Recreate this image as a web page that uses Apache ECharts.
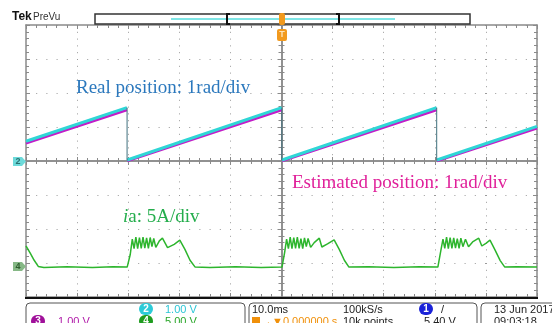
<!DOCTYPE html>
<html>
<head>
<meta charset="utf-8">
<script src="https://cdn.jsdelivr.net/npm/echarts@6/dist/echarts.min.js"></script>
<style>
html,body{margin:0;padding:0;background:#fff}
#scope{width:552px;height:323px}
</style>
</head>
<body>
<div id="scope"></div>
<script>
// time in ms (10 ms/div), amplitude in divisions (0 = centre line)
var ch2Real = [[-50,0.58],[-30.25,1.57],[-30.22,'-'],[-30.2,0.03],[0.05,1.57],[0.07,'-'],[0.1,0.03],[30.35,1.57],[30.37,'-'],[30.4,0.03],[50,1.02]];
var ch3Est = [[-50,0.52],[-30.25,1.5],[-30.22,'-'],[-30.2,0.0],[0.05,1.5],[0.07,'-'],[0.1,0.0],[30.35,1.5],[30.37,'-'],[30.4,0.0],[50,0.96]];
var rampDrops = [[-30.22,1.57],[-30.22,0.02],[-30.2,'-'],[0.07,1.57],[0.07,0.02],[0.1,'-'],[30.37,1.57],[30.37,0.02]];
var ch4Current = [
  [-50,-2.5],[-49.2,-2.7],[-48.4,-2.92],[-47.6,-3.1],[-46.5,-3.13],[-42,-3.11],[-37,-3.13],[-33,-3.11],
  [-30.2,-3.12],[-29.6,-2.75],[-29.2,-2.3],[-28.85,-2.58],[-28.5,-2.24],[-28.15,-2.58],[-27.8,-2.25],[-27.45,-2.57],
  [-27.1,-2.24],[-26.75,-2.56],[-26.4,-2.26],[-26.05,-2.57],[-25.7,-2.25],[-25.35,-2.52],[-25.0,-2.28],[-24.6,-2.54],
  [-23.9,-2.35],[-23.3,-2.27],[-22.3,-2.55],[-21.0,-2.45],[-19.9,-2.33],[-18.9,-2.6],[-17.9,-2.92],[-16.9,-3.12],
  [-14,-3.13],[-9,-3.11],[-4,-3.13],
  [0.1,-3.12],[0.6,-2.7],[1.0,-2.3],[1.35,-2.58],[1.7,-2.24],[2.05,-2.58],[2.4,-2.25],[2.75,-2.57],
  [3.1,-2.24],[3.45,-2.57],[3.8,-2.28],[4.15,-2.58],[4.5,-2.26],[4.85,-2.52],[5.2,-2.28],[5.7,-2.54],
  [6.4,-2.4],[7.4,-2.27],[7.9,-2.53],[9.0,-2.44],[10.3,-2.32],[11.3,-2.6],[12.3,-2.92],[13.2,-3.12],
  [17,-3.11],[22,-3.13],[27,-3.11],
  [30.6,-3.12],[31.1,-2.7],[31.6,-2.3],[31.95,-2.57],[32.3,-2.24],[32.65,-2.58],[33.0,-2.25],[33.35,-2.57],
  [33.7,-2.26],[34.05,-2.56],[34.4,-2.28],[34.75,-2.57],[35.1,-2.27],[35.5,-2.52],[36.0,-2.3],[36.6,-2.52],
  [37.4,-2.38],[38.6,-2.27],[39.2,-2.5],[40.0,-2.42],[40.8,-2.33],[41.8,-2.62],[42.8,-2.93],[43.7,-3.12],
  [46,-3.11],[50,-3.12]
];

var chart = echarts.init(document.getElementById('scope'));
var GRAY = '#8a8a8a';
var sans = 'Liberation Sans';
var serif = 'Liberation Serif';

function xAx(pos, onZero, inside, split) {
  return {
    type: 'value', min: -50, max: 50, interval: 10, position: pos,
    axisLine: {show: true, onZero: onZero, onZeroAxisIndex: 0, lineStyle: {color: GRAY, width: 1.5}},
    axisTick: {show: true, inside: inside, length: 4, lineStyle: {color: GRAY}},
    minorTick: {show: true, splitNumber: 5, length: 3, lineStyle: {color: GRAY}},
    axisLabel: {show: false},
    splitLine: {show: split, lineStyle: {color: '#9a9a9a', width: 1, type: [1, 5.8]}}
  };
}
function yAx(pos, onZero, inside, split) {
  return {
    type: 'value', min: -4, max: 4, interval: 1, position: pos,
    axisLine: {show: true, onZero: onZero, onZeroAxisIndex: 0, lineStyle: {color: GRAY, width: 1.5}},
    axisTick: {show: true, inside: inside, length: 4, lineStyle: {color: GRAY}},
    minorTick: {show: true, splitNumber: 5, length: 3, lineStyle: {color: GRAY}},
    axisLabel: {show: false},
    splitLine: {show: split, lineStyle: {color: '#9a9a9a', width: 1, type: [1, 9.2]}}
  };
}

function txt(x, y, s, color, size, extra) {
  var st = {text: s, fill: color, font: (size || 11) + 'px "' + sans + '"', textVerticalAlign: 'middle'};
  if (extra) for (var k in extra) st[k] = extra[k];
  return {type: 'text', x: x, y: y, style: st, z: 100};
}
function badge(x, y, n, color) {
  return [
    {type: 'rect', shape: {x: x - 7, y: y - 6, width: 14, height: 12, r: 6}, style: {fill: color}, z: 101},
    {type: 'text', x: x, y: y, style: {text: n, fill: '#fff', font: 'bold 10px "' + sans + '"', textAlign: 'center', textVerticalAlign: 'middle'}, z: 102}
  ];
}

var graphics = [
  // header
  txt(12, 17, 'Tek', '#111', 12, {font: 'bold 12px "' + sans + '"'}),
  txt(33, 17, 'PreVu', '#333', 10),
  {type: 'rect', shape: {x: 95, y: 14, width: 375, height: 10}, style: {fill: '#fff', stroke: '#333', lineWidth: 1.5}, z: 90},
  {type: 'line', shape: {x1: 171, y1: 19, x2: 395, y2: 19}, style: {stroke: '#7fe6e6', lineWidth: 2}, z: 91},
  {type: 'polyline', shape: {points: [[230, 14], [227, 14], [227, 24], [230, 24]]}, style: {stroke: '#111', lineWidth: 2, fill: null}, z: 92},
  {type: 'polyline', shape: {points: [[336, 14], [339, 14], [339, 24], [336, 24]]}, style: {stroke: '#111', lineWidth: 2, fill: null}, z: 92},
  {type: 'rect', shape: {x: 279, y: 13, width: 6, height: 12, r: 2}, style: {fill: '#f29a1e'}, z: 93},
  {type: 'rect', shape: {x: 277, y: 29, width: 10, height: 12, r: 2}, style: {fill: '#f29a1e'}, z: 93},
  txt(282, 35, 'T', '#fde3b8', 9, {textAlign: 'center', font: 'bold 9px "' + sans + '"'}),
  // bottom graticule edge
  {type: 'line', shape: {x1: 25, y1: 298, x2: 538, y2: 298}, style: {stroke: '#111', lineWidth: 2}, z: 95},
  // channel markers
  {type: 'polygon', shape: {points: [[13, 157], [22, 157], [26, 161.5], [22, 166], [13, 166]]}, style: {fill: '#6ddada'}, z: 95},
  txt(18, 162, '2', '#2a6f6f', 9, {textAlign: 'center', font: 'bold 9px "' + sans + '"'}),
  {type: 'polygon', shape: {points: [[13, 262], [22, 262], [26, 266.5], [22, 271], [13, 271]]}, style: {fill: '#86b886'}, z: 95},
  txt(18, 267, '4', '#2f5f2f', 9, {textAlign: 'center', font: 'bold 9px "' + sans + '"'}),
  // annotations
  txt(76, 88, 'Real position: 1rad/div', '#2b78bd', 19, {font: '19px "' + serif + '"'}),
  txt(292, 183, 'Estimated position: 1rad/div', '#e0209a', 19, {font: '19px "' + serif + '"'}),
  {type: 'text', x: 123, y: 217, z: 100, style: {text: '{i|i}a: 5A/div', fill: '#24ad4c', font: '19px "' + serif + '"', textVerticalAlign: 'middle',
    rich: {i: {fontStyle: 'italic', fontFamily: serif, fontSize: 19, fill: '#24ad4c'}}}},
  // bottom readout panel
  {type: 'rect', shape: {x: 26, y: 303, width: 219, height: 40, r: 4}, style: {fill: '#fff', stroke: '#555', lineWidth: 1}, z: 90},
  {type: 'rect', shape: {x: 249, y: 303, width: 228, height: 40, r: 4}, style: {fill: '#fff', stroke: '#555', lineWidth: 1}, z: 90},
  {type: 'rect', shape: {x: 481, y: 303, width: 90, height: 40, r: 4}, style: {fill: '#fff', stroke: '#555', lineWidth: 1}, z: 90},
  txt(165, 310, '1.00 V', '#2cc6d6'),
  txt(58, 322, '1.00 V', '#b01aa8'),
  txt(165, 322, '5.00 V', '#27a527'),
  txt(252, 310, '10.0ms', '#222'),
  {type: 'rect', shape: {x: 252, y: 317, width: 8, height: 9}, style: {fill: '#f0900a'}, z: 100},
  txt(261, 322, '\u2192\u25bc0.000000 s', '#f0900a'),
  txt(343, 310, '100kS/s', '#222'),
  txt(343, 322, '10k points', '#222'),
  txt(441, 310, '/', '#222'),
  txt(424, 322, '5.40 V', '#222'),
  txt(494, 310, '13 Jun 2017', '#222'),
  txt(494, 322, '09:03:18', '#222')
].concat(badge(146, 309, '2', '#2ccbd8'), badge(38, 321, '3', '#a0109a'), badge(146, 321, '4', '#1f9c1f'), badge(426, 309, '1', '#1a22d8'));

var option = {
  backgroundColor: '#fff',
  animation: false,
  grid: {left: 26, right: 15, top: 25, bottom: 26},
  xAxis: [xAx('bottom', false, true, true), xAx('top', false, true, false), xAx('bottom', true, true, false), xAx('bottom', true, false, false)],
  yAxis: [yAx('left', false, true, true), yAx('right', false, true, false), yAx('left', true, true, false), yAx('left', true, false, false)],
  series: [
    {type: 'line', data: ch3Est, showSymbol: false, lineStyle: {color: '#c21cc8', width: 2.5}, z: 5},
    {type: 'line', data: ch2Real, showSymbol: false, lineStyle: {color: '#2fd6d6', width: 3}, z: 6},
    {type: 'line', data: rampDrops, showSymbol: false, lineStyle: {color: '#3e6f7c', width: 1}, z: 7},
    {type: 'line', data: ch4Current, showSymbol: false, lineStyle: {color: '#2db52d', width: 1.5}, z: 5}
  ],
  graphic: graphics
};
chart.setOption(option);
</script>
</body>
</html>
